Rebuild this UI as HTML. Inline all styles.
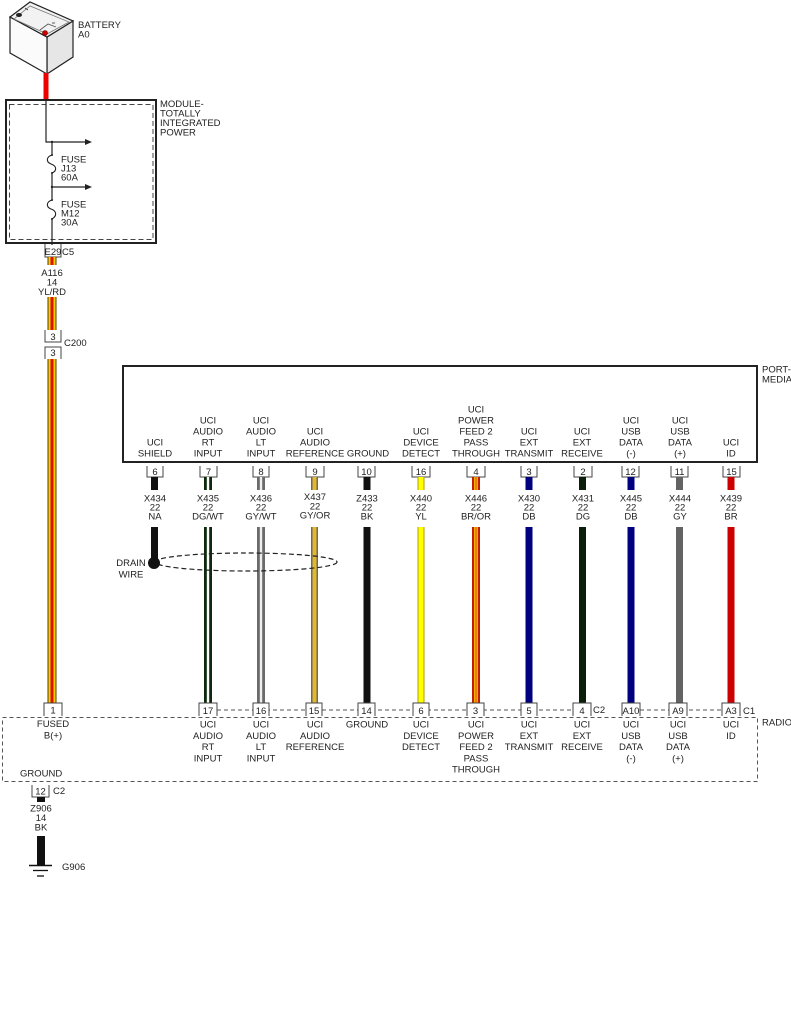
<!DOCTYPE html>
<html><head><meta charset="utf-8"><style>
html,body{margin:0;padding:0;background:#fff;}
svg{display:block;}
text{font-family:"Liberation Sans",Arial,sans-serif;font-size:9.5px;fill:#222;}
.m{text-anchor:middle;}
</style></head><body>
<svg width="791" height="1024" viewBox="0 0 791 1024" xmlns="http://www.w3.org/2000/svg">
<rect width="791" height="1024" fill="#fff"/>

<!-- Battery -->
<polygon points="47,37 73,21 73,57 47,74" fill="#e6e6e6" stroke="#222" stroke-width="1.2"/>
<polygon points="10,17 47,37 47,74 10,53" fill="#fbfbfb" stroke="#222" stroke-width="1.2"/>
<polygon points="10,17 30,2 73,21 47,37" fill="#f2f2f2" stroke="#222" stroke-width="1.2"/>
<polygon points="14,19 30,6 69,22 47,34" fill="none" stroke="#777" stroke-width="0.8"/>
<polyline points="40,30 48,24 56,27" fill="none" stroke="#555" stroke-width="0.8"/>
<ellipse cx="19" cy="15" rx="3" ry="2" fill="#222"/>
<line x1="25" y1="8" x2="28" y2="10" stroke="#333" stroke-width="0.8"/>
<line x1="52" y1="23" x2="55" y2="23" stroke="#333" stroke-width="0.8"/>
<circle cx="45" cy="33" r="2.5" fill="#c00" stroke="#600" stroke-width="0.6"/>
<text x="78" y="28">BATTERY</text>
<text x="78" y="37.5">A0</text>
<rect x="43.5" y="73" width="5" height="28" fill="#e00"/>

<!-- Module -->
<rect x="6" y="100" width="150" height="143" fill="none" stroke="#222" stroke-width="2"/>
<rect x="9.5" y="104.5" width="143.5" height="135" fill="none" stroke="#444" stroke-width="1" stroke-dasharray="5,3"/>
<text x="160" y="107">MODULE-</text>
<text x="160" y="116.5">TOTALLY</text>
<text x="160" y="126">INTEGRATED</text>
<text x="160" y="135.5">POWER</text>
<polyline points="46,100 46,142 86,142" fill="none" stroke="#222" stroke-width="1.2"/>
<polygon points="85,139 92,142 85,145" fill="#222"/>
<line x1="52" y1="142" x2="52" y2="155" stroke="#222" stroke-width="1.2"/>
<circle cx="52" cy="142" r="1.2" fill="#222"/>
<path d="M52,155 C46,157 46,162 51,164 C57,166 57,171 52,173" fill="none" stroke="#222" stroke-width="1.1"/>
<circle cx="52" cy="155" r="1" fill="#222"/><circle cx="52" cy="173" r="1" fill="#222"/>
<line x1="52" y1="173" x2="52" y2="200" stroke="#222" stroke-width="1.2"/>
<line x1="52" y1="187" x2="86" y2="187" stroke="#222" stroke-width="1.2"/>
<polygon points="85,184 92,187 85,190" fill="#222"/>
<circle cx="52" cy="187" r="1.2" fill="#222"/>
<path d="M52,200 C46,202 46,207 51,209 C57,211 57,216 52,219" fill="none" stroke="#222" stroke-width="1.1"/>
<circle cx="52" cy="200" r="1" fill="#222"/><circle cx="52" cy="219" r="1" fill="#222"/>
<line x1="52" y1="219" x2="52" y2="245" stroke="#222" stroke-width="1.2"/>
<text x="61" y="162.5">FUSE</text><text x="61" y="171.5">J13</text><text x="61" y="180.5">60A</text>
<text x="61" y="207.5">FUSE</text><text x="61" y="216.5">M12</text><text x="61" y="225.5">30A</text>

<!-- E29 C5 -->
<path d="M45,244 V257 H61 V244" fill="none" stroke="#444" stroke-width="1"/>
<text class="m" x="53" y="255">E29</text>
<text x="62" y="255">C5</text>

<!-- Main YL/RD wire -->
<g>
<rect x="47.5" y="257" width="9" height="8" fill="#5a3a00"/><rect x="48.5" y="257" width="7" height="8" fill="#f2d000"/><rect x="50.5" y="257" width="3" height="8" fill="#dd1100"/>
<rect x="47.5" y="297" width="9" height="34" fill="#5a3a00"/><rect x="48.5" y="297" width="7" height="34" fill="#f2d000"/><rect x="50.5" y="297" width="3" height="34" fill="#dd1100"/>
<rect x="47.5" y="357" width="9" height="346" fill="#5a3a00"/><rect x="48.5" y="357" width="7" height="346" fill="#f2d000"/><rect x="50.5" y="357" width="3" height="346" fill="#dd1100"/>
</g>
<text class="m" x="52" y="276">A116</text>
<text class="m" x="52" y="285.5">14</text>
<text class="m" x="52" y="295">YL/RD</text>
<path d="M45,330 V342 H61 V330" fill="#fff" stroke="#444" stroke-width="1"/>
<text class="m" x="53" y="340">3</text>
<path d="M45,359 V347 H61 V359" fill="#fff" stroke="#444" stroke-width="1"/>
<text class="m" x="53" y="356">3</text>
<text x="64" y="346">C200</text>

<!-- Port-Media box -->
<rect x="123" y="366" width="634" height="96" fill="none" stroke="#222" stroke-width="2"/>
<text x="762" y="372.5">PORT-</text>
<text x="762" y="382.5">MEDIA</text>

<!-- Column labels in port-media -->
<g class="m">
<text class="m" x="155" y="445.5">UCI</text><text class="m" x="155" y="456.5">SHIELD</text>
<text class="m" x="208" y="423.5">UCI</text><text class="m" x="208" y="434.5">AUDIO</text><text class="m" x="208" y="445.5">RT</text><text class="m" x="208" y="456.5">INPUT</text>
<text class="m" x="261" y="423.5">UCI</text><text class="m" x="261" y="434.5">AUDIO</text><text class="m" x="261" y="445.5">LT</text><text class="m" x="261" y="456.5">INPUT</text>
<text class="m" x="315" y="434.5">UCI</text><text class="m" x="315" y="445.5">AUDIO</text><text class="m" x="315" y="456.5">REFERENCE</text>
<text class="m" x="368" y="456.5">GROUND</text>
<text class="m" x="421" y="434.5">UCI</text><text class="m" x="421" y="445.5">DEVICE</text><text class="m" x="421" y="456.5">DETECT</text>
<text class="m" x="476" y="412.5">UCI</text><text class="m" x="476" y="423.5">POWER</text><text class="m" x="476" y="434.5">FEED 2</text><text class="m" x="476" y="445.5">PASS</text><text class="m" x="476" y="456.5">THROUGH</text>
<text class="m" x="529" y="434.5">UCI</text><text class="m" x="529" y="445.5">EXT</text><text class="m" x="529" y="456.5">TRANSMIT</text>
<text class="m" x="582" y="434.5">UCI</text><text class="m" x="582" y="445.5">EXT</text><text class="m" x="582" y="456.5">RECEIVE</text>
<text class="m" x="631" y="423.5">UCI</text><text class="m" x="631" y="434.5">USB</text><text class="m" x="631" y="445.5">DATA</text><text class="m" x="631" y="456.5">(-)</text>
<text class="m" x="680" y="423.5">UCI</text><text class="m" x="680" y="434.5">USB</text><text class="m" x="680" y="445.5">DATA</text><text class="m" x="680" y="456.5">(+)</text>
<text class="m" x="731" y="445.5">UCI</text><text class="m" x="731" y="456.5">ID</text>
</g>

<!-- Top connectors -->
<g fill="none" stroke="#444" stroke-width="1">
<path d="M147,466 V477 H163 V466"/>
<path d="M200,466 V477 H217 V466"/>
<path d="M253,466 V477 H269 V466"/>
<path d="M306,466 V477 H324 V466"/>
<path d="M358,466 V477 H375 V466"/>
<path d="M412,466 V477 H430 V466"/>
<path d="M467,466 V477 H485 V466"/>
<path d="M521,466 V477 H537 V466"/>
<path d="M574,466 V477 H592 V466"/>
<path d="M622,466 V477 H639 V466"/>
<path d="M671,466 V477 H688 V466"/>
<path d="M723,466 V477 H740 V466"/>
</g>
<g>
<text class="m" x="155" y="475">6</text>
<text class="m" x="208.5" y="475">7</text>
<text class="m" x="261" y="475">8</text>
<text class="m" x="315" y="475">9</text>
<text class="m" x="366.5" y="475">10</text>
<text class="m" x="421" y="475">16</text>
<text class="m" x="476" y="475">4</text>
<text class="m" x="529" y="475">3</text>
<text class="m" x="583" y="475">2</text>
<text class="m" x="630.5" y="475">12</text>
<text class="m" x="679.5" y="475">11</text>
<text class="m" x="731.5" y="475">15</text>
</g>

<!-- Wire labels -->
<g>
<text class="m" x="155" y="501.5">X434</text><text class="m" x="155" y="510.5">22</text><text class="m" x="155" y="519.5">NA</text>
<text class="m" x="208" y="501.5">X435</text><text class="m" x="208" y="510.5">22</text><text class="m" x="208" y="519.5">DG/WT</text>
<text class="m" x="261" y="501.5">X436</text><text class="m" x="261" y="510.5">22</text><text class="m" x="261" y="519.5">GY/WT</text>
<text class="m" x="315" y="500">X437</text><text class="m" x="315" y="509.5">22</text><text class="m" x="315" y="518.5">GY/OR</text>
<text class="m" x="367" y="501.5">Z433</text><text class="m" x="367" y="510.5">22</text><text class="m" x="367" y="519.5">BK</text>
<text class="m" x="421" y="501.5">X440</text><text class="m" x="421" y="510.5">22</text><text class="m" x="421" y="519.5">YL</text>
<text class="m" x="476" y="501.5">X446</text><text class="m" x="476" y="510.5">22</text><text class="m" x="476" y="519.5">BR/OR</text>
<text class="m" x="529" y="501.5">X430</text><text class="m" x="529" y="510.5">22</text><text class="m" x="529" y="519.5">DB</text>
<text class="m" x="583" y="501.5">X431</text><text class="m" x="583" y="510.5">22</text><text class="m" x="583" y="519.5">DG</text>
<text class="m" x="631" y="501.5">X445</text><text class="m" x="631" y="510.5">22</text><text class="m" x="631" y="519.5">DB</text>
<text class="m" x="680" y="501.5">X444</text><text class="m" x="680" y="510.5">22</text><text class="m" x="680" y="519.5">GY</text>
<text class="m" x="731" y="501.5">X439</text><text class="m" x="731" y="510.5">22</text><text class="m" x="731" y="519.5">BR</text>
</g>

<!-- Wires: upper stubs (477-490) and lower (527-703) -->
<!-- 6 NA -->
<rect x="151" y="477" width="7" height="13" fill="#111"/>
<rect x="151" y="527" width="7" height="33" fill="#111"/>
<!-- 7 DG/WT -->
<rect x="204" y="477" width="8" height="13" fill="#0d2a0d"/><rect x="206.8" y="477" width="2.4" height="13" fill="#fff"/>
<rect x="204" y="527" width="8" height="176" fill="#0d2a0d"/><rect x="206.8" y="527" width="2.4" height="176" fill="#fff"/>
<!-- 8 GY/WT -->
<rect x="257" y="477" width="8" height="13" fill="#6a6a6a"/><rect x="259.8" y="477" width="2.4" height="13" fill="#eee"/>
<rect x="257" y="527" width="8" height="176" fill="#6a6a6a"/><rect x="259.8" y="527" width="2.4" height="176" fill="#eee"/>
<!-- 9 GY/OR -->
<rect x="311" y="477" width="7" height="13" fill="#6a6a6a"/><rect x="312.5" y="477" width="4" height="13" fill="#e4b828"/>
<rect x="311" y="527" width="7" height="176" fill="#6a6a6a"/><rect x="312.5" y="527" width="4" height="176" fill="#e4b828"/>
<!-- 10 BK -->
<rect x="363.5" y="477" width="7" height="13" fill="#111"/>
<rect x="363.5" y="527" width="7" height="176" fill="#111"/>
<!-- 16 YL -->
<rect x="417.5" y="477" width="7" height="13" fill="#b0a000"/><rect x="418.5" y="477" width="5" height="13" fill="#ffff00"/>
<rect x="417.5" y="527" width="7" height="176" fill="#b0a000"/><rect x="418.5" y="527" width="5" height="176" fill="#ffff00"/>
<!-- 4 BR/OR -->
<rect x="472" y="477" width="8" height="13" fill="#c02000"/><rect x="474" y="477" width="4" height="13" fill="#f4b000"/><rect x="475.5" y="477" width="1" height="13" fill="#e05000"/>
<rect x="472" y="527" width="8" height="176" fill="#c02000"/><rect x="474" y="527" width="4" height="176" fill="#f4b000"/><rect x="475.5" y="527" width="1" height="176" fill="#e05000"/>
<!-- 3 DB -->
<rect x="525.5" y="477" width="7" height="13" fill="#000080"/>
<rect x="525.5" y="527" width="7" height="176" fill="#000080"/>
<!-- 2 DG -->
<rect x="579" y="477" width="7" height="13" fill="#0a1f0a"/>
<rect x="579" y="527" width="7" height="176" fill="#0a1f0a"/>
<!-- 12 DB -->
<rect x="627.5" y="477" width="7" height="13" fill="#000080"/>
<rect x="627.5" y="527" width="7" height="176" fill="#000080"/>
<!-- 11 GY -->
<rect x="676" y="477" width="7" height="13" fill="#636363"/>
<rect x="676" y="527" width="7" height="176" fill="#636363"/>
<!-- 15 BR -->
<rect x="727.5" y="477" width="7" height="13" fill="#cc0000"/>
<rect x="727.5" y="527" width="7" height="176" fill="#cc0000"/>

<!-- Drain wire -->
<ellipse cx="246" cy="562" rx="91" ry="9" fill="none" stroke="#222" stroke-width="1.2" stroke-dasharray="5,3"/>
<circle cx="154" cy="563" r="6" fill="#111"/>
<text class="m" x="131" y="566">DRAIN</text>
<text class="m" x="131" y="577.5">WIRE</text>

<!-- Radio box -->
<rect x="2.5" y="717.5" width="755" height="64" fill="none" stroke="#555" stroke-width="1" stroke-dasharray="4,3"/>
<text x="762" y="725.5">RADIO</text>

<!-- Connector dashed lines -->
<line x1="217" y1="710" x2="573" y2="710" stroke="#555" stroke-width="1" stroke-dasharray="4,3"/>
<line x1="640" y1="710" x2="722" y2="710" stroke="#555" stroke-width="1" stroke-dasharray="4,3"/>

<!-- Bottom connectors -->
<g fill="#fff" stroke="#444" stroke-width="1">
<path d="M44,716 V703 H62 V716"/>
<path d="M199,716 V703 H217 V716"/>
<path d="M253,716 V703 H269 V716"/>
<path d="M306,716 V703 H322 V716"/>
<path d="M358,716 V703 H375 V716"/>
<path d="M413,716 V703 H429 V716"/>
<path d="M467,716 V703 H484 V716"/>
<path d="M521,716 V703 H537 V716"/>
<path d="M573,716 V703 H591 V716"/>
<path d="M622,716 V703 H640 V716"/>
<path d="M669,716 V703 H687 V716"/>
<path d="M722,716 V703 H740 V716"/>
</g>
<g>
<text class="m" x="53" y="713.5">1</text>
<text class="m" x="208" y="714">17</text>
<text class="m" x="261" y="714">16</text>
<text class="m" x="314" y="714">15</text>
<text class="m" x="366.5" y="714">14</text>
<text class="m" x="421" y="714">6</text>
<text class="m" x="475.5" y="714">3</text>
<text class="m" x="529" y="714">5</text>
<text class="m" x="582" y="714">4</text>
<text class="m" x="631" y="714">A10</text>
<text class="m" x="678" y="714">A9</text>
<text class="m" x="731" y="714">A3</text>
<text x="593" y="713">C2</text>
<text x="743" y="714">C1</text>
</g>

<!-- Radio labels -->
<g>
<text class="m" x="53" y="727">FUSED</text><text class="m" x="53" y="738.5">B(+)</text>
<text class="m" x="208" y="727.5">UCI</text><text class="m" x="208" y="739">AUDIO</text><text class="m" x="208" y="750">RT</text><text class="m" x="208" y="761.5">INPUT</text>
<text class="m" x="261" y="727.5">UCI</text><text class="m" x="261" y="739">AUDIO</text><text class="m" x="261" y="750">LT</text><text class="m" x="261" y="761.5">INPUT</text>
<text class="m" x="315" y="727.5">UCI</text><text class="m" x="315" y="739">AUDIO</text><text class="m" x="315" y="750">REFERENCE</text>
<text class="m" x="367" y="727.5">GROUND</text>
<text class="m" x="421" y="727.5">UCI</text><text class="m" x="421" y="739">DEVICE</text><text class="m" x="421" y="750">DETECT</text>
<text class="m" x="476" y="727.5">UCI</text><text class="m" x="476" y="739">POWER</text><text class="m" x="476" y="750">FEED 2</text><text class="m" x="476" y="761.5">PASS</text><text class="m" x="476" y="772.5">THROUGH</text>
<text class="m" x="529" y="727.5">UCI</text><text class="m" x="529" y="739">EXT</text><text class="m" x="529" y="750">TRANSMIT</text>
<text class="m" x="582" y="727.5">UCI</text><text class="m" x="582" y="739">EXT</text><text class="m" x="582" y="750">RECEIVE</text>
<text class="m" x="631" y="727.5">UCI</text><text class="m" x="631" y="739">USB</text><text class="m" x="631" y="750">DATA</text><text class="m" x="631" y="761.5">(-)</text>
<text class="m" x="678" y="727.5">UCI</text><text class="m" x="678" y="739">USB</text><text class="m" x="678" y="750">DATA</text><text class="m" x="678" y="761.5">(+)</text>
<text class="m" x="731" y="727.5">UCI</text><text class="m" x="731" y="739">ID</text>
<text x="20" y="776.5">GROUND</text>
</g>

<!-- Ground wire -->
<path d="M32,785 V797 H49 V785" fill="none" stroke="#444" stroke-width="1"/>
<text class="m" x="40.5" y="794.5">12</text>
<text x="53" y="794">C2</text>
<rect x="37" y="797" width="8" height="5" fill="#111"/>
<text class="m" x="41" y="811.5">Z906</text>
<text class="m" x="41" y="821">14</text>
<text class="m" x="41" y="830.5">BK</text>
<rect x="37" y="836" width="8" height="29" fill="#111"/>
<line x1="29" y1="865.5" x2="52" y2="865.5" stroke="#111" stroke-width="1.5"/>
<line x1="33" y1="870.5" x2="48" y2="870.5" stroke="#111" stroke-width="1.3"/>
<line x1="37" y1="876" x2="44" y2="876" stroke="#111" stroke-width="1.3"/>
<text x="62" y="870">G906</text>
</svg>
</body></html>
